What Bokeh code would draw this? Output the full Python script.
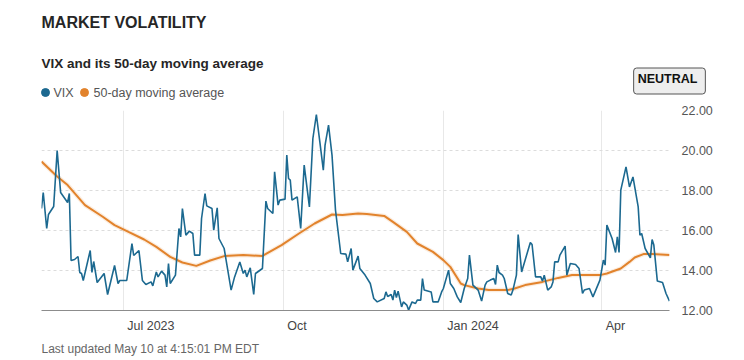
import pandas as pd
from bokeh.plotting import figure
from bokeh.models import (ColumnDataSource, FixedTicker, PrintfTickFormatter, Label, Range1d)
from bokeh.embed import file_html
from bokeh.resources import INLINE

# ---------------- data ----------------
vix_dates = [
    "2023-05-15", "2023-05-16", "2023-05-18", "2023-05-19", "2023-05-22", "2023-05-24", "2023-05-26",
    "2023-05-30", "2023-05-31", "2023-06-01", "2023-06-03", "2023-06-05", "2023-06-06", "2023-06-07",
    "2023-06-08", "2023-06-12", "2023-06-13", "2023-06-14", "2023-06-16", "2023-06-20", "2023-06-22",
    "2023-06-26", "2023-06-28", "2023-06-29", "2023-07-03", "2023-07-06", "2023-07-07", "2023-07-10",
    "2023-07-12", "2023-07-14", "2023-07-17", "2023-07-18", "2023-07-20", "2023-07-21", "2023-07-23",
    "2023-07-25", "2023-07-26", "2023-07-27", "2023-07-28", "2023-07-31", "2023-08-02", "2023-08-03",
    "2023-08-04", "2023-08-06", "2023-08-08", "2023-08-10", "2023-08-11", "2023-08-14", "2023-08-15",
    "2023-08-17", "2023-08-18", "2023-08-21", "2023-08-22", "2023-08-24", "2023-08-25", "2023-08-28",
    "2023-09-01", "2023-09-03", "2023-09-06", "2023-09-08", "2023-09-09", "2023-09-10", "2023-09-12",
    "2023-09-14", "2023-09-15", "2023-09-19", "2023-09-21", "2023-09-22", "2023-09-25", "2023-09-26",
    "2023-09-28", "2023-09-29", "2023-10-02", "2023-10-03", "2023-10-04", "2023-10-05", "2023-10-06",
    "2023-10-09", "2023-10-11", "2023-10-13", "2023-10-16", "2023-10-18", "2023-10-20", "2023-10-22",
    "2023-10-24", "2023-10-25", "2023-10-27", "2023-10-29", "2023-10-31", "2023-11-03", "2023-11-06",
    "2023-11-07", "2023-11-09", "2023-11-10", "2023-11-13", "2023-11-14", "2023-11-17", "2023-11-20",
    "2023-11-22", "2023-11-24", "2023-11-28", "2023-11-29", "2023-11-30", "2023-12-02", "2023-12-03",
    "2023-12-04", "2023-12-05", "2023-12-06", "2023-12-08", "2023-12-09", "2023-12-11", "2023-12-12",
    "2023-12-14", "2023-12-16", "2023-12-17", "2023-12-19", "2023-12-20", "2023-12-21", "2023-12-25",
    "2023-12-26", "2023-12-29", "2023-12-31", "2024-01-01", "2024-01-04", "2024-01-05", "2024-01-07",
    "2024-01-09", "2024-01-11", "2024-01-13", "2024-01-15", "2024-01-16", "2024-01-18", "2024-01-21",
    "2024-01-23", "2024-01-25", "2024-01-26", "2024-01-28", "2024-01-30", "2024-01-31", "2024-02-01",
    "2024-02-02", "2024-02-04", "2024-02-05", "2024-02-07", "2024-02-09", "2024-02-10", "2024-02-12",
    "2024-02-13", "2024-02-15", "2024-02-20", "2024-02-21", "2024-02-23", "2024-02-26", "2024-02-27",
    "2024-02-28", "2024-03-01", "2024-03-03", "2024-03-04", "2024-03-05", "2024-03-07", "2024-03-08",
    "2024-03-11", "2024-03-12", "2024-03-14", "2024-03-17", "2024-03-19", "2024-03-21", "2024-03-22",
    "2024-03-25", "2024-03-27", "2024-03-31", "2024-04-02", "2024-04-03", "2024-04-04", "2024-04-07",
    "2024-04-09", "2024-04-10", "2024-04-11", "2024-04-12", "2024-04-15", "2024-04-17", "2024-04-19",
    "2024-04-22", "2024-04-23", "2024-04-24", "2024-04-26", "2024-04-29", "2024-04-30", "2024-05-01",
    "2024-05-03", "2024-05-06", "2024-05-08", "2024-05-10",
]
vix_values = [
    17.1, 17.9, 16.1, 16.8, 17.2, 20.0, 17.9,
    17.4, 17.85, 14.5, 14.55, 14.7, 13.9, 13.85,
    13.5, 15.0, 13.9, 14.45, 13.4, 13.85, 12.8,
    14.25, 13.35, 13.5, 13.5, 15.35, 14.75, 15.0,
    13.5, 13.3, 13.43, 13.23, 13.93, 13.68, 13.97,
    13.77, 13.18, 14.35, 13.35, 13.77, 16.1, 15.68,
    17.1, 15.77, 15.97, 15.85, 14.77, 14.77, 16.6,
    17.85, 17.23, 17.1, 16.02, 17.13, 15.6, 15.1,
    13.02, 13.68, 14.43, 13.85, 14.02, 13.68, 14.13,
    12.8, 13.85, 14.1, 17.47, 17.1, 16.85, 18.93,
    17.27, 17.52, 17.57, 19.77, 18.6, 18.52, 17.52,
    17.68, 16.1, 19.27, 17.18, 20.6, 21.8, 20.43,
    19.02, 20.27, 21.27, 19.77, 17.02, 14.85, 14.82,
    14.43, 15.1, 14.02, 14.72, 14.1, 13.77, 13.35,
    12.6, 12.43, 12.6, 12.93, 12.7, 12.8, 12.52,
    13.02, 12.65, 12.97, 12.18, 12.43, 12.27, 12.02,
    12.43, 12.35, 12.52, 12.52, 13.6, 13.02, 12.93,
    12.43, 12.43, 12.93, 13.1, 14.02, 13.35, 13.1,
    12.68, 12.4, 13.1, 13.6, 14.77, 13.27, 13.02,
    12.47, 13.27, 13.43, 13.52, 13.6, 13.3, 14.27,
    13.9, 13.77, 13.6, 12.85, 12.77, 13.02, 13.77,
    15.8, 13.93, 15.4, 15.3, 13.68, 13.68, 13.47,
    13.77, 13.02, 13.18, 13.43, 14.43, 14.43, 14.77,
    15.22, 13.77, 14.35, 14.3, 14.1, 12.85, 13.02,
    13.1, 12.68, 13.52, 14.52, 14.27, 16.27, 15.6,
    14.9, 15.68, 14.9, 18.02, 19.18, 18.18, 18.68,
    17.18, 15.77, 15.85, 15.1, 14.63, 15.55, 15.27,
    13.47, 13.4, 12.85, 12.47,
]

ma_dates = [
    "2023-05-15", "2023-05-24", "2023-05-30", "2023-06-09", "2023-06-19", "2023-06-26", "2023-07-04",
    "2023-07-13", "2023-07-20", "2023-07-28", "2023-08-04", "2023-08-12", "2023-08-20", "2023-08-28",
    "2023-09-08", "2023-09-19", "2023-09-30", "2023-10-10", "2023-10-19", "2023-10-29", "2023-11-04",
    "2023-11-13", "2023-11-18", "2023-11-28", "2023-12-03", "2023-12-11", "2023-12-17", "2023-12-26",
    "2024-01-01", "2024-01-05", "2024-01-11", "2024-01-13", "2024-01-21", "2024-01-27", "2024-02-07",
    "2024-02-11", "2024-02-17", "2024-02-27", "2024-03-07", "2024-03-15", "2024-03-25", "2024-03-31",
    "2024-04-04", "2024-04-12", "2024-04-17", "2024-04-20", "2024-04-25", "2024-04-30", "2024-05-10",
]
ma_values = [
    19.45, 18.7, 18.27, 17.27, 16.7, 16.27, 15.93,
    15.55, 15.18, 14.68, 14.4, 14.23, 14.5, 14.72,
    14.77, 14.73, 15.27, 15.85, 16.35, 16.8, 16.77,
    16.85, 16.83, 16.73, 16.43, 15.93, 15.35, 14.93,
    14.52, 14.18, 13.35, 13.27, 13.1, 13.02, 13.02,
    13.1, 13.27, 13.43, 13.63, 13.77, 13.77, 13.77,
    13.85, 14.1, 14.43, 14.65, 14.82, 14.82, 14.77,
]

x_ticks = ["2023-07-01", "2023-10-01", "2024-01-01", "2024-04-01"]
x_tick_labels = ["Jul 2023", "Oct", "Jan 2024", "Apr"]
y_ticks = [12, 14, 16, 18, 20, 22]
series_names = ["VIX", "50-day moving average"]
title_text = "MARKET VOLATILITY"
subtitle_text = "VIX and its 50-day moving average"
badge_text = "NEUTRAL"
footer_text = "Last updated May 10 at 4:15:01 PM EDT"

# ---------------- styling ----------------
FONT = "Liberation Sans"
VIX_COLOR = "#1c6990"
MA_COLOR = "#e2832c"
W = 744
HEAD_H, CHART_H, FOOT_H = 102, 216, 42
LEFT, RIGHT = 41, 75


def bare(fig):
    fig.xaxis.visible = False
    fig.yaxis.visible = False
    fig.xgrid.visible = False
    fig.ygrid.visible = False
    fig.outline_line_color = None
    return fig


x_range = Range1d(pd.Timestamp(vix_dates[0]), pd.Timestamp(vix_dates[-1]))

# ---------------- header (pixel-space figure) ----------------
head = bare(figure(width=W, height=HEAD_H, x_range=Range1d(0, W), y_range=Range1d(HEAD_H, 0),
                   output_backend="svg", toolbar_location=None,
                   min_border_left=0, min_border_right=0, min_border_top=0, min_border_bottom=0))
head.add_layout(Label(x=41, y=22, text=title_text, text_font=FONT, text_font_size="16px",
                      text_font_style="bold", text_color="#262626", text_baseline="middle"))
head.add_layout(Label(x=41, y=63, text=subtitle_text, text_font=FONT, text_font_size="13.5px",
                      text_font_style="bold", text_color="#262626", text_baseline="middle"))
head.scatter(x=[45, 84], y=[92, 92], marker="circle", size=8, color=[VIX_COLOR, MA_COLOR])
for lx, name in zip([53, 93], series_names):
    head.add_layout(Label(x=lx, y=92, text=name, text_font=FONT, text_font_size="12.5px",
                          text_color="#555555", text_baseline="middle"))
head.add_layout(Label(x=669, y=80.5, text=badge_text, text_font=FONT, text_font_size="12.5px",
                      text_font_style="bold", text_color="#111111", text_align="center",
                      text_baseline="middle", background_fill_color="#eeeeee",
                      border_line_color="#555555", border_radius=3, padding=(4, 8, 4, 8)))

# ---------------- chart ----------------
vix_src = ColumnDataSource(dict(x=pd.to_datetime(vix_dates), y=vix_values))
ma_src = ColumnDataSource(dict(x=pd.to_datetime(ma_dates), y=ma_values))

p = figure(width=W, height=CHART_H, x_axis_type="datetime", y_axis_location="right",
           x_range=x_range, y_range=Range1d(12, 22),
           output_backend="svg", toolbar_location=None,
           min_border_left=LEFT, min_border_right=RIGHT, min_border_top=8, min_border_bottom=8)
p.outline_line_color = None

tick_ms = [pd.Timestamp(t).value // 10**6 for t in x_ticks]
p.xaxis.ticker = FixedTicker(ticks=[])
p.xaxis.axis_line_color = "#8c8c8c"
p.xaxis.major_tick_line_color = None
p.xaxis.minor_tick_line_color = None
p.xgrid.ticker = FixedTicker(ticks=tick_ms)

p.yaxis.ticker = FixedTicker(ticks=y_ticks)
p.yaxis.formatter = PrintfTickFormatter(format="%.2f")
p.yaxis.major_label_text_font = FONT
p.yaxis.major_label_text_font_size = "12.5px"
p.yaxis.major_label_text_color = "#555555"
p.yaxis.major_label_standoff = 6
p.yaxis.axis_line_color = None
p.yaxis.major_tick_line_color = None
p.yaxis.minor_tick_line_color = None

p.xgrid.grid_line_color = "#e8e8e8"
p.ygrid.grid_line_color = "#dcdcdc"
p.ygrid.grid_line_dash = "3 3"

p.line("x", "y", source=ma_src, color=MA_COLOR, line_width=4.5, line_alpha=0.15)
p.line("x", "y", source=ma_src, color=MA_COLOR, line_width=2)
p.line("x", "y", source=vix_src, color=VIX_COLOR, line_width=1.6)

# ---------------- footer: x tick labels + update note ----------------
foot = bare(figure(width=W, height=FOOT_H, x_axis_type="datetime", x_range=x_range,
                   y_range=Range1d(FOOT_H, 0), output_backend="svg", toolbar_location=None,
                   min_border_left=LEFT, min_border_right=RIGHT, min_border_top=0, min_border_bottom=0))
for t, lab in zip(tick_ms, x_tick_labels):
    foot.add_layout(Label(x=t, y=7, x_offset=4, text=lab,
                          text_font=FONT, text_font_size="12.5px", text_color="#444444",
                          text_baseline="middle"))
foot.add_layout(Label(x=pd.Timestamp(vix_dates[0]).value // 10**6, y=30, text=footer_text,
                      text_font=FONT, text_font_size="12px", text_color="#666666",
                      text_baseline="middle"))

open("out.html", "w").write(file_html([head, p, foot], INLINE))
